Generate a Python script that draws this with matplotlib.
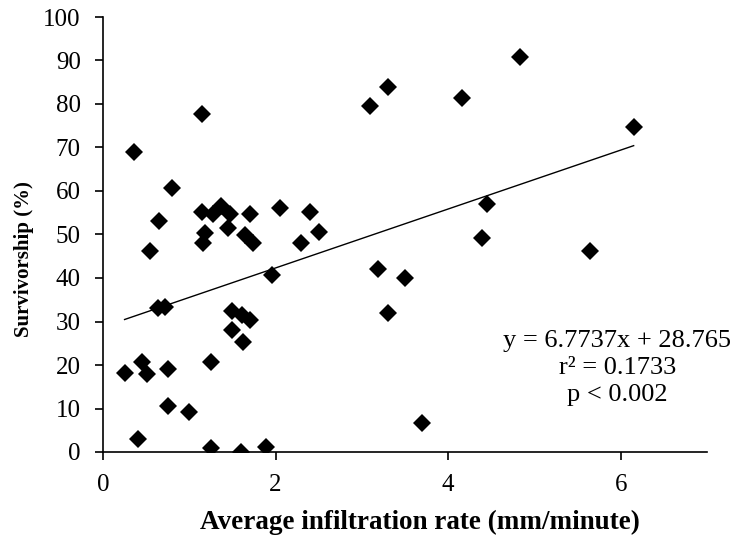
import numpy as np
import matplotlib
matplotlib.use("Agg")
import matplotlib.pyplot as plt

plt.rcParams["font.family"] = ["Liberation Serif", "DejaVu Serif"]

# infiltration rate (mm/min) vs survivorship (%)
infil = [0.25, 0.36, 0.40, 0.45, 0.51, 0.54, 0.64, 0.65, 0.72, 0.75,
         0.75, 0.80, 1.00, 1.15, 1.15, 1.16, 1.18, 1.25, 1.25, 1.28,
         1.37, 1.45, 1.47, 1.49, 1.49, 1.60, 1.61, 1.62, 1.64, 1.70,
         1.70, 1.74, 1.89, 1.96, 2.05, 2.30, 2.40, 2.50, 3.10, 3.19,
         3.30, 3.30, 3.50, 3.70, 4.16, 4.39, 4.45, 4.83, 5.64, 6.15]
surv = [18.2, 69.0, 2.9, 20.6, 17.9, 46.2, 33.0, 53.0, 33.3, 19.1,
        10.6, 60.6, 9.1, 77.7, 55.2, 48.0, 50.3, 20.6, 1.0, 54.7,
        56.6, 51.4, 54.6, 32.3, 28.0, 0.1, 31.5, 25.4, 49.9, 30.3,
        54.6, 48.0, 1.2, 40.8, 56.0, 48.0, 55.1, 50.6, 79.5, 42.0,
        83.8, 31.9, 40.1, 6.6, 81.3, 49.3, 57.0, 90.7, 46.3, 74.8]

slope, intercept = 6.7737, 28.765
stats = ["y = 6.7737x + 28.765", "r\u00b2 = 0.1733", "p < 0.002"]

fig = plt.figure(figsize=(7.34, 5.37), dpi=100)
ax = fig.add_axes([103 / 734, 85 / 537, 604 / 734, 435 / 537])

ax.plot(infil, surv, "D", color="black", ms=9.2, mew=0, zorder=3)
xs = np.array([min(infil), max(infil)])
ax.plot(xs, slope * xs + intercept, color="black", lw=1.0, zorder=2)

ax.set_xlim(0, 7)
ax.set_ylim(0, 100)
ax.set_xticks([0, 2, 4, 6])
ax.set_yticks(range(0, 101, 10))
for s in ("top", "right"):
    ax.spines[s].set_visible(False)
for s in ("left", "bottom"):
    ax.spines[s].set_linewidth(1.2)
ax.tick_params(direction="out", length=6, width=1.2, labelsize=18)
ax.tick_params(axis="x", pad=10)
ax.tick_params(axis="y", pad=10)

ax.set_xlabel("Average infiltration rate (mm/minute)", fontsize=19.5,
              fontweight="bold")
ax.xaxis.set_label_coords(0.525, -0.133)
ax.set_ylabel("Survivorship (%)", fontsize=15, fontweight="bold")
ax.yaxis.set_label_coords(-0.115, 0.444)

ax.text(5.96, 19.3, "\n".join(stats), fontsize=19, ha="center", va="center",
        linespacing=1.3)

fig.savefig("out.png", dpi=100)
